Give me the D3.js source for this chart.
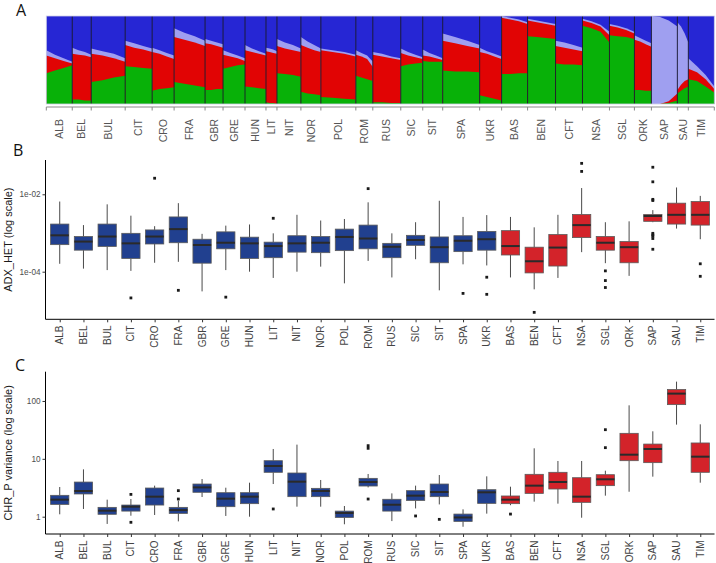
<!DOCTYPE html>
<html><head><meta charset="utf-8">
<script src="https://cdn.jsdelivr.net/npm/d3@7"></script>
<style>
body{margin:0;background:#fff}
svg{display:block}
text{font-family:"Liberation Sans",Arial,sans-serif}
</style>
</head><body>
<svg id="c" width="716" height="563"></svg>
<script>
// ---------------- DATA ----------------
const pops = ["ALB","BEL","BUL","CIT","CRO","FRA","GBR","GRE","HUN","LIT","NIT","NOR","POL","ROM","RUS","SIC","SIT","SPA","UKR","BAS","BEN","CFT","NSA","SGL","ORK","SAP","SAU","TIM"];
const redPops = ["BAS","BEN","CFT","NSA","SGL","ORK","SAP","SAU","TIM"];
// sample sizes (width of each population block in panel A)
const popSizes = [26,19,34,27,22,31,18,22,21,11,24,20,35,17,28,22,20,37,22,26,28,27,27,25,17,26,11,26];
// Panel A: cumulative ancestry (top of green, top of red, top of lavender), individuals sorted, 4 read points per population
const admixGreen = [[0.35,0.38,0.41,0.44],[0.05,0.05,0.04,0.04],[0.25,0.27,0.30,0.32],[0.43,0.42,0.41,0.40],[0.15,0.17,0.18,0.19],[0.25,0.23,0.21,0.19],[0.16,0.16,0.17,0.17],[0.40,0.42,0.44,0.45],[0.20,0.19,0.18,0.17],[0.02,0.01,0.01,0.0],[0.35,0.34,0.33,0.31],[0.14,0.12,0.11,0.10],[0.08,0.07,0.06,0.05],[0.32,0.30,0.28,0.26],[0.02,0.02,0.01,0.01],[0.43,0.45,0.46,0.47],[0.49,0.48,0.48,0.48],[0.38,0.37,0.37,0.36],[0.10,0.08,0.06,0.04],[0.34,0.34,0.35,0.35],[0.77,0.76,0.75,0.74],[0.46,0.45,0.45,0.44],[0.89,0.86,0.82,0.70],[0.78,0.77,0.76,0.74],[0.16,0.16,0.15,0.15],[0,0,0.01,0.04],[0.12,0.15,0.18,0.20],[0.28,0.26,0.20,0.13]];
const admixRed = [[0.55,0.52,0.49,0.46],[0.57,0.56,0.55,0.53],[0.57,0.55,0.52,0.48],[0.67,0.64,0.62,0.59],[0.59,0.57,0.54,0.51],[0.76,0.73,0.70,0.66],[0.69,0.68,0.66,0.64],[0.56,0.54,0.52,0.49],[0.61,0.59,0.57,0.55],[0.60,0.59,0.58,0.57],[0.66,0.63,0.61,0.59],[0.67,0.64,0.61,0.59],[0.61,0.59,0.57,0.54],[0.56,0.54,0.51,0.42],[0.56,0.54,0.52,0.50],[0.58,0.55,0.53,0.51],[0.55,0.54,0.52,0.50],[0.72,0.69,0.66,0.63],[0.59,0.57,0.54,0.51],[0.98,0.96,0.94,0.91],[0.95,0.93,0.91,0.89],[0.66,0.64,0.62,0.60],[0.95,0.92,0.88,0.78],[0.89,0.87,0.84,0.80],[0.73,0.71,0.68,0.65],[0,0,0.03,0.12],[0.16,0.22,0.26,0.28],[0.40,0.36,0.28,0.17]];
const admixLav = [[0.61,0.56,0.52,0.48],[0.64,0.61,0.59,0.56],[0.63,0.60,0.57,0.52],[0.72,0.69,0.66,0.63],[0.64,0.61,0.58,0.55],[0.86,0.81,0.77,0.72],[0.74,0.72,0.70,0.68],[0.61,0.58,0.55,0.52],[0.67,0.63,0.60,0.57],[0.64,0.63,0.62,0.60],[0.74,0.70,0.67,0.63],[0.76,0.71,0.67,0.63],[0.63,0.61,0.59,0.56],[0.61,0.58,0.55,0.48],[0.59,0.57,0.54,0.52],[0.63,0.59,0.56,0.53],[0.62,0.58,0.55,0.52],[0.80,0.76,0.72,0.67],[0.64,0.60,0.57,0.54],[1.0,0.98,0.96,0.93],[0.97,0.95,0.93,0.91],[0.72,0.70,0.67,0.64],[0.97,0.94,0.90,0.82],[0.91,0.89,0.86,0.82],[0.78,0.75,0.72,0.69],[1.0,0.99,0.95,0.88],[0.93,0.88,0.80,0.70],[0.52,0.43,0.33,0.20]];

// Panel B: ADX_HET [lower whisker, q1, median, q3, upper whisker]
const hetStats = [[1.6e-4,5.0e-4,8.7e-4,1.7e-3,6.5e-3],[1.2e-4,3.6e-4,6.0e-4,8.1e-4,1.6e-3],[1.1e-4,4.5e-4,8.1e-4,1.7e-3,5.5e-3],[1.05e-4,2.2e-4,5.4e-4,9.8e-4,2.8e-3],[1.7e-4,5.2e-4,8.1e-4,1.2e-3,1.5e-3],[1.8e-4,5.6e-4,1.26e-3,2.6e-3,5.9e-3],[3.1e-5,1.66e-4,4.9e-4,6.9e-4,9.5e-4],[1.1e-4,3.9e-4,5.6e-4,1.07e-3,1.55e-3],[1.0e-4,2.2e-4,5.4e-4,7.8e-4,1.66e-3],[6.9e-5,2.3e-4,4.6e-4,5.8e-4,9.8e-4],[1.0e-4,3.2e-4,5.4e-4,8.5e-4,2.95e-3],[1.35e-4,3.1e-4,5.6e-4,8.1e-4,2.1e-3],[5.0e-5,3.5e-4,7.9e-4,1.26e-3,2.3e-3],[1.9e-4,3.9e-4,7.2e-4,1.6e-3,6.2e-3],[7.1e-5,2.3e-4,4.4e-4,5.4e-4,9.8e-4],[2.1e-4,4.8e-4,6.6e-4,8.7e-4,1.9e-3],[3.3e-5,1.7e-4,4.3e-4,7.9e-4,6.8e-3],[1.55e-4,3.3e-4,6.3e-4,8.5e-4,2.6e-3],[1.45e-4,3.6e-4,6.9e-4,1.1e-3,2.9e-3],[7.1e-5,2.7e-4,4.6e-4,1.15e-3,2.6e-3],[3.5e-5,9.3e-5,1.86e-4,4.3e-4,1.4e-3],[6.9e-5,1.4e-4,4.2e-4,9.1e-4,2.95e-3],[3.2e-4,7.6e-4,1.6e-3,3.0e-3,1.45e-2],[1.66e-4,3.6e-4,5.6e-4,8.1e-4,1.9e-3],[7.8e-5,1.7e-4,4.3e-4,6.0e-4,2.0e-3],[1.9e-3,2.0e-3,2.75e-3,3.0e-3,3.9e-3],[1.3e-3,1.7e-3,2.95e-3,5.9e-3,1.5e-2],[6.9e-4,1.6e-3,2.95e-3,6.5e-3,9.1e-3]];
const hetOutliers = [[],[],[],[2.1e-5],[2.6e-2],[3.3e-5],[],[2.2e-5],[],[2.4e-3],[],[],[],[1.4e-2],[],[],[],[2.75e-5],[7.2e-5,2.6e-5],[],[8.9e-6],[],[6.3e-2,3.9e-2],[1.05e-4,5.9e-5,3.9e-5],[],[5.0e-2,2.1e-2,7.4e-3,6.9e-3,9.8e-4,8.9e-4,8.3e-4,7.2e-4,3.8e-4],[],[1.6e-4,7.6e-5]];
const hetTicks = [1e-4,1e-2];
const hetTickLabels = ["1e-04","1e-02"];

// Panel C: CHR_P variance [lower whisker, q1, median, q3, upper whisker]
const chrStats = [[1.10,1.63,1.97,2.34,3.26],[1.36,2.47,2.78,3.97,6.58],[0.75,1.10,1.27,1.45,1.97],[1.04,1.25,1.49,1.59,2.02],[1.07,1.59,2.22,3.13,3.44],[0.83,1.14,1.30,1.45,1.89],[2.19,2.64,3.21,3.67,4.48],[1.03,1.49,2.05,2.60,3.17],[1.0,1.68,2.22,2.60,3.87],[3.67,5.85,7.52,9.29,14.8],[1.49,2.22,4.03,5.69,17.6],[1.49,2.22,2.78,3.09,4.31],[0.74,0.97,1.16,1.25,1.53],[3.21,3.39,3.98,4.60,5.47],[0.84,1.25,1.61,2.0,2.53],[1.39,1.91,2.31,2.82,3.44],[1.63,2.22,2.67,3.67,5.25],[0.67,0.83,0.97,1.11,1.34],[1.13,1.70,2.64,2.93,4.98],[1.58,1.68,1.97,2.28,3.30],[1.82,2.53,3.44,5.40,15.2],[1.68,3.01,3.98,5.85,9.18],[0.96,1.77,2.22,4.72,9.18],[2.31,3.44,4.43,5.32,6.24],[2.70,9.29,11.8,27.6,84.1],[4.92,8.59,14.8,18.0,29.9],[39.0,86.5,134,158,216],[3.87,5.85,10.9,18.8,39.5]];
const chrOutliers = [[],[],[],[2.43,0.80],[],[2.02,2.82],[],[],[],[1.36],[],[],[],[16.9,15.2,2.02],[],[1.03],[0.90],[],[],[1.11],[],[],[],[31.9,15.6],[],[],[],[]];
const chrTicks = [1,10,100];
const chrTickLabels = ["1","10","100"];

// ---------------- DRAW ----------------
const svg = d3.select("#c");
const colBlue = "#21408f", colRed = "#d3232a";
const fillOf = p => redPops.includes(p) ? colRed : colBlue;

// Panel letters
[["A",16,16],["B",13,156],["C",15,371]].forEach(([t,x,y]) =>
  svg.append("text").attr("x",x).attr("y",y).attr("font-size",16)
    .style("font-family","'Open Sans','Liberation Sans',sans-serif").attr("fill","#111").text(t));

// ---- Panel A ----
const aL = 46.3, aR = 714.3, aT = 16, aB = 104;
const total = d3.sum(popSizes);
const cum = Array.from(d3.cumsum(popSizes));
const xA = d3.scaleLinear().domain([0,total]).range([aL,aR]);
const yA = d3.scaleLinear().domain([0,1]).range([aB,aT]);
const gA = svg.append("g");
gA.append("rect").attr("x",aL).attr("y",aT).attr("width",aR-aL).attr("height",aB-aT).attr("fill","#2626d4");
const fracs = [0,1/3,2/3,1];
const layers = [[admixLav,"#9f9ff0"],[admixRed,"#e10404"],[admixGreen,"#08b108"]];
pops.forEach((p,i) => {
  const s = i ? cum[i-1] : 0, e = cum[i];
  layers.forEach(([arr,col]) => {
    const pts = arr[i].map((v,k) => ({x: s + fracs[k]*(e-s), v}));
    const area = d3.area().x(d => xA(d.x)).y0(yA(0)).y1(d => yA(d.v)).curve(d3.curveLinear);
    gA.append("path").attr("d", area(pts)).attr("fill", col);
  });
});
cum.slice(0,-1).forEach(c => gA.append("line").attr("x1",xA(c)).attr("x2",xA(c)).attr("y1",aT).attr("y2",aB)
  .attr("stroke","#1a1a2a").attr("stroke-width",0.9));
gA.append("rect").attr("x",aL).attr("y",aT).attr("width",aR-aL).attr("height",aB-aT).attr("fill","none").attr("stroke","#cfcfe8").attr("stroke-width",0.8);
// axis A
const axY = 107;
gA.append("line").attr("x1",aL).attr("x2",aR).attr("y1",axY).attr("y2",axY).attr("stroke","#8a8a8a").attr("stroke-width",1);
[0,...cum].forEach(c => gA.append("line").attr("x1",xA(c)).attr("x2",xA(c)).attr("y1",axY).attr("y2",axY+3.5).attr("stroke","#8a8a8a").attr("stroke-width",1));
pops.forEach((p,i) => {
  const s = i ? cum[i-1] : 0, e = cum[i];
  gA.append("text").attr("transform",`translate(${xA((s+e)/2)},${119}) rotate(-90)`)
    .attr("dy","0.35em").attr("text-anchor","end").attr("font-size",10.5).attr("fill","#555").text(p);
});

// ---- Box panels ----
function boxPanel(top, bottom, domain, stats, outliers, ticks, tickLabels, title, labelY) {
  const g = svg.append("g");
  const x = d3.scalePoint().domain(pops).range([45.5,714.5]).padding(0.6);
  const y = d3.scaleLog().domain(domain).range([bottom, top]);
  const bw = x.step()*0.77;
  pops.forEach((p,i) => {
    const [lo,q1,md,q3,hi] = stats[i];
    const cx = x(p);
    g.append("line").attr("x1",cx).attr("x2",cx).attr("y1",y(hi)).attr("y2",y(q3)).attr("stroke","#4a4a4a").attr("stroke-width",1);
    g.append("line").attr("x1",cx).attr("x2",cx).attr("y1",y(q1)).attr("y2",y(lo)).attr("stroke","#4a4a4a").attr("stroke-width",1);
    g.append("rect").attr("x",cx-bw/2).attr("y",y(q3)).attr("width",bw).attr("height",y(q1)-y(q3))
      .attr("fill",fillOf(p)).attr("stroke","#5a5a5a").attr("stroke-width",0.8);
    g.append("line").attr("x1",cx-bw/2).attr("x2",cx+bw/2).attr("y1",y(md)).attr("y2",y(md)).attr("stroke","#2a2a2a").attr("stroke-width",2);
    outliers[i].forEach(o => g.append("rect").attr("x",cx-1.4).attr("y",y(o)-1.4).attr("width",2.8).attr("height",2.8).attr("fill","#1a1a1a"));
  });
  // axes
  const ya = g.append("g").attr("transform","translate(45.5,0)")
    .call(d3.axisLeft(y).tickValues(ticks).tickFormat((d,i)=>tickLabels[i]).tickSize(3).tickPadding(2));
  ya.select(".domain").attr("d",`M0,${top}V${bottom}`).attr("stroke","#000").attr("stroke-width",1);
  ya.selectAll("text").attr("font-size",8.2).attr("fill","#4d4d4d").style("font-family","'Liberation Sans',Arial,sans-serif");
  ya.selectAll(".tick line").attr("stroke","#333");
  const xa = g.append("g").attr("transform",`translate(0,${bottom})`)
    .call(d3.axisBottom(x).tickSize(3).tickFormat(""));
  xa.select(".domain").attr("d","M45.5,0H714.5").attr("stroke","#000").attr("stroke-width",1);
  xa.selectAll(".tick line").attr("stroke","#333");
  pops.forEach(p => g.append("text").attr("transform",`translate(${x(p)},${labelY}) rotate(-90)`)
    .attr("dy","0.35em").attr("text-anchor","end").attr("font-size",10).attr("fill","#444").text(p));
  g.append("text").attr("transform",`translate(11.5,${(top+bottom)/2}) rotate(-90)`)
    .attr("text-anchor","middle").attr("font-size",11).attr("fill","#1a1a1a").text(title);
}
boxPanel(160, 319.3, [Math.pow(10,-5.23), Math.pow(10,-1.114)], hetStats, hetOutliers, hetTicks, hetTickLabels, "ADX_HET (log scale)", 325.5);
boxPanel(371.7, 534, [Math.pow(10,-0.299), Math.pow(10,2.506)], chrStats, chrOutliers, chrTicks, chrTickLabels, "CHR_P variance (log scale)", 540.5);
</script>
</body></html>
